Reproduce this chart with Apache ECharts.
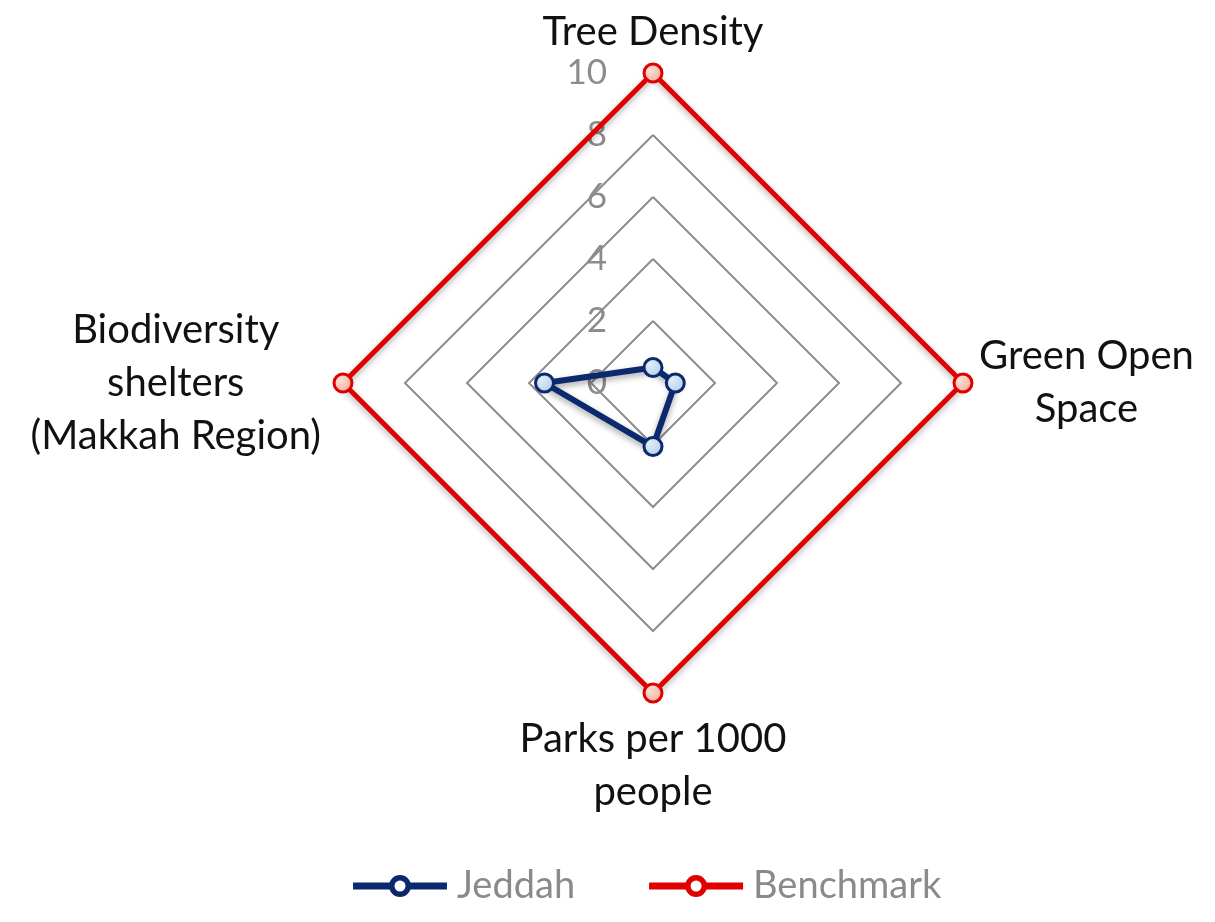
<!DOCTYPE html>
<html lang="en">
<head>
    <meta charset="UTF-8">
    <title>Green indicators</title>
    <script type="text/javascript" src="https://cdn.jsdelivr.net/npm/echarts@6/dist/echarts.min.js"></script>
    <style>
        html, body { margin: 0; padding: 0; background: #fff; }
    </style>
</head>
<body>
<div id="main" style="width: 1215px;height: 922px"></div>
</body>
<script>
    // indicators, clockwise from the top (as in the picture)
    var indicators = ["Tree Density", "Green Open\nSpace", "Parks per 1000\npeople", "Biodiversity\nshelters\n(Makkah Region)"]
    var jeddah = [0.5, 0.72, 2.05, 3.5]
    var benchmark = [10, 10, 10, 10]
    var axisMax = 10

    var font = "Lato, 'Open Sans', sans-serif"

    // echarts radar runs counter-clockwise, so top, left, bottom, right
    var order = [0, 3, 2, 1]
    function reorder(arr) {
        return order.map(function (i) { return arr[i] })
    }

    var myChart = echarts.init(document.getElementById("main"))

    var ind = reorder(indicators).map(function (n, i) {
        var o = { name: n, max: axisMax, min: 0 }
        if (i === 0) {
            o.axisLabel = { show: true }
            o.nameGap = 14
        }
        if (i === 1) o.nameGap = 22
        if (i === 3) o.nameGap = 16
        return o
    })

    function marker(c1, c2, edge) {
        return {
            color: new echarts.graphic.RadialGradient(0.35, 0.35, 0.8, [
                { offset: 0, color: c1 },
                { offset: 1, color: c2 }
            ]),
            borderColor: edge,
            borderWidth: 3
        }
    }

    // legend icon: a line with a ring on it
    var legendIcon = "path://M0,7.5 L36,7.5 L36,12.5 L0,12.5 Z M56,7.5 L92,7.5 L92,12.5 L56,12.5 Z " +
        "M56,10 A10,10 0 1,0 36,10 A10,10 0 1,0 56,10 Z M52.5,10 A6.5,6.5 0 1,1 39.5,10 A6.5,6.5 0 1,1 52.5,10 Z"

    myChart.setOption({
        animation: false,
        textStyle: { fontFamily: font },
        legend: {
            bottom: 12,
            left: 348,
            itemWidth: 92,
            itemHeight: 20,
            itemGap: 74,
            textStyle: { fontSize: 38, color: "#8a8a8a", fontFamily: font, padding: [0, 0, 0, 6] },
            data: [
                { name: "Jeddah", icon: legendIcon, itemStyle: { color: "#0b2a6e" } },
                { name: "Benchmark", icon: legendIcon, itemStyle: { color: "#e00000" } }
            ]
        },
        radar: {
            center: [653, 383],
            radius: 310,
            startAngle: 90,
            splitNumber: 5,
            shape: "polygon",
            indicator: ind,
            axisName: {
                color: "#111",
                fontSize: 40,
                fontFamily: font,
                formatter: function (v) {
                    return v.split("\n").map(function (s) { return "{c|" + s + "}" }).join("\n")
                },
                rich: {
                    c: { fontSize: 40, color: "#111", align: "center", lineHeight: 53, fontFamily: font }
                }
            },
            nameGap: 20,
            axisLine: { show: false },
            axisTick: { show: false },
            axisLabel: {
                show: false,
                color: "#8c8c8c",
                fontSize: 35,
                fontFamily: font,
                margin: 46
            },
            splitLine: { lineStyle: { color: "#8c8c8c", width: 2 } },
            splitArea: { show: false }
        },
        series: [{
            type: "radar",
            symbol: "circle",
            symbolSize: 18,
            z: 3,
            itemStyle: { color: "#0b2a6e" },
            data: [{
                name: "Jeddah",
                value: reorder(jeddah),
                lineStyle: { color: "#0b2a6e", width: 6, shadowBlur: 6, shadowColor: "rgba(0,0,0,0.35)", shadowOffsetY: 3 },
                itemStyle: marker("#e2eefa", "#a9c9e8", "#0b2a6e")
            }]
        }, {
            type: "radar",
            symbol: "circle",
            symbolSize: 18,
            z: 2,
            itemStyle: { color: "#e00000" },
            data: [{
                name: "Benchmark",
                value: reorder(benchmark),
                lineStyle: { color: "#e00000", width: 5, shadowBlur: 6, shadowColor: "rgba(0,0,0,0.3)", shadowOffsetY: 3 },
                itemStyle: marker("#fde0d6", "#f5a48e", "#e00000")
            }]
        }]
    });
</script>
</html>
